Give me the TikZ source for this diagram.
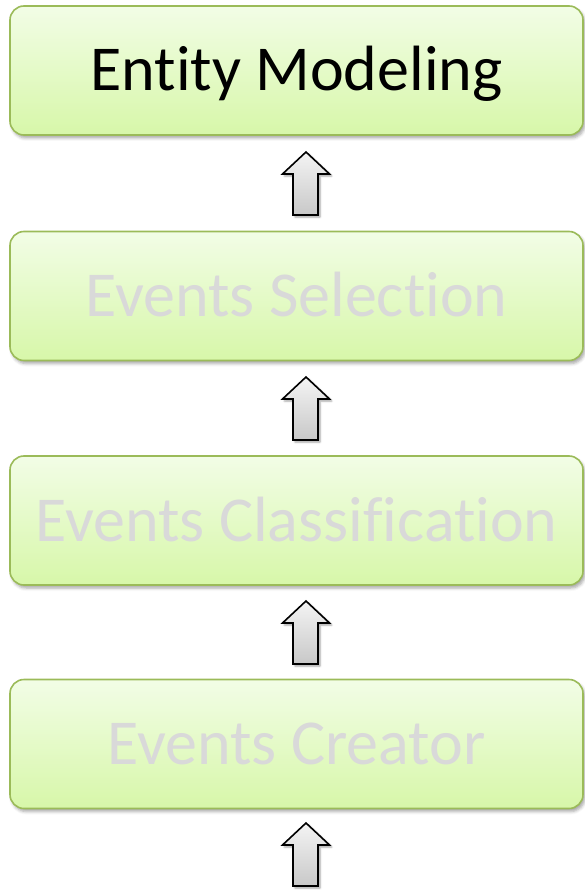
\documentclass[tikz,border=0pt]{standalone}
\usepackage{fontspec}
\setmainfont[Ligatures=NoCommon]{Carlito}
\usetikzlibrary{shadows.blur}
\definecolor{boxedge}{HTML}{9BBB59}
\definecolor{boxtop}{HTML}{F2FDE6}
\definecolor{boxbot}{HTML}{D7F7A9}
\definecolor{fadedtext}{HTML}{D9D9D9}
\definecolor{arrtop}{HTML}{F4F4F4}
\definecolor{arrbot}{HTML}{C8C8C8}
\tikzset{
  stage/.style={draw=boxedge, line width=1.6pt, rounded corners=14pt,
    top color=boxtop, bottom color=boxbot,
    minimum width=573pt, minimum height=129pt, inner sep=0pt,
    text height=41pt, text depth=0pt,
    font=\fontsize{64}{72}\selectfont,
    blur shadow={shadow xshift=2pt, shadow yshift=-3pt, shadow blur radius=3pt, shadow opacity=35}},
  activetext/.style={text=black},
  idletext/.style={text=fadedtext},
  uparr/.pic={
    \path[draw=black, line width=1.6pt, line join=miter, top color=arrtop, bottom color=arrbot,
      blur shadow={shadow xshift=2pt, shadow yshift=-2pt, shadow blur radius=2pt, shadow opacity=40}]
      (0,0) -- (23.5,22) -- (12,22) -- (12,63) -- (-13,63) -- (-13,22) -- (-23.5,22) -- cycle;
  }
}
\begin{document}
\begin{tikzpicture}[x=1pt, y=-1pt]
  \useasboundingbox (0,0) rectangle (585,890);
  \clip (0,0) rectangle (585,890);
  \node[stage, activetext] (model) at (296.5,70.5) {Entity Modeling};
  \node[stage, idletext] (select) at (296.5,296) {Events Selection};
  \node[stage, idletext] (classify) at (296.5,520.5) {Events Classification};
  \node[stage, idletext] (create) at (296.5,744) {Events Creator};
  \pic (up1) at (306,152) {uparr};
  \pic (up2) at (306,377) {uparr};
  \pic (up3) at (306,601) {uparr};
  \pic (up4) at (306,823) {uparr};
\end{tikzpicture}
\end{document}
